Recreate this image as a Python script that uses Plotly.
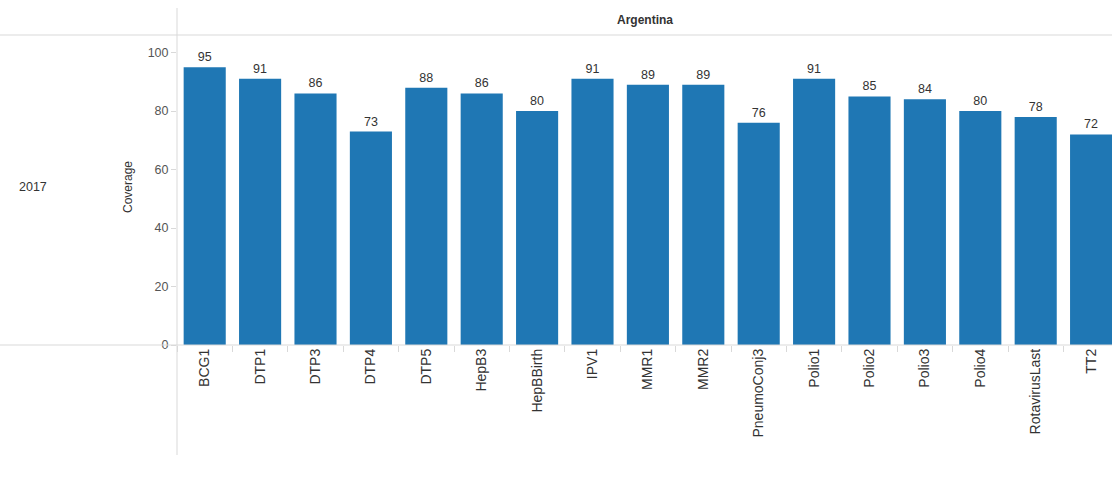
import plotly.graph_objects as go

vaccines = ["BCG1", "DTP1", "DTP3", "DTP4", "DTP5", "HepB3", "HepBBirth", "IPV1",
            "MMR1", "MMR2", "PneumoConj3", "Polio1", "Polio2", "Polio3", "Polio4",
            "RotavirusLast", "TT2"]
coverage = [95, 91, 86, 73, 88, 86, 80, 91, 89, 89, 76, 91, 85, 84, 80, 78, 72]
country = "Argentina"
year = "2017"

W, H = 1112, 483
L, T, B = 177, 35, 138
plot_w = W - L
plot_h = H - T - B

fig = go.Figure(go.Bar(
    x=vaccines,
    y=coverage,
    text=[str(v) for v in coverage],
    textposition="outside",
    cliponaxis=False,
    textfont=dict(size=12.5, color="#333333"),
    marker=dict(color="#1f77b4", line=dict(width=0)),
    width=0.76,
    hoverinfo="x+y",
))

line_col = "#d9d9d9"
font = "Liberation Sans, Arial, sans-serif"

def px_x(p):
    return (p - L) / plot_w

def px_y(p):
    return (H - B - p) / plot_h

shapes = [
    # header separator
    dict(type="line", xref="paper", yref="paper", x0=px_x(0), x1=px_x(W),
         y0=1, y1=1, line=dict(color=line_col, width=1)),
    # baseline across the full width
    dict(type="line", xref="paper", yref="paper", x0=px_x(0), x1=px_x(W),
         y0=0, y1=0, line=dict(color=line_col, width=1)),
    # row-header divider
    dict(type="line", xref="paper", yref="paper", x0=0, x1=0,
         y0=px_y(455), y1=px_y(8), line=dict(color=line_col, width=1)),
]

annotations = [
    dict(text="<b>" + country + "</b>", xref="paper", yref="paper",
         x=0.5, y=px_y(20), xanchor="center", yanchor="middle", showarrow=False,
         font=dict(size=12, color="#333333", family=font)),
    dict(text=year, xref="paper", yref="paper", x=px_x(33), y=px_y(187),
         xanchor="center", yanchor="middle", showarrow=False,
         font=dict(size=12.5, color="#333333", family=font)),
    dict(text="Coverage", xref="paper", yref="paper", x=px_x(128), y=px_y(187),
         xanchor="center", yanchor="middle", showarrow=False, textangle=-90,
         font=dict(size=12, color="#333333", family=font)),
]

fig.update_layout(
    width=W, height=H,
    margin=dict(l=L, r=0, t=T, b=B, pad=0),
    paper_bgcolor="white",
    plot_bgcolor="white",
    font=dict(family=font, size=12, color="#333333"),
    showlegend=False,
    shapes=shapes,
    annotations=annotations,
    xaxis=dict(
        range=[-0.5, -0.5 + plot_w / 55.4],
        tickangle=-90,
        ticks="outside", tickson="boundaries", ticklen=6,
        tickcolor=line_col, showgrid=False, showline=False, zeroline=False,
        tickfont=dict(size=14, color="#333333"),
    ),
    yaxis=dict(
        range=[0, 106],
        tickvals=[0, 20, 40, 60, 80, 100],
        ticks="outside", ticklen=5, tickcolor=line_col,
        showgrid=False, showline=False, zeroline=False,
        tickfont=dict(size=12.5, color="#555555"),
    ),
)

fig.write_html("out.html")
